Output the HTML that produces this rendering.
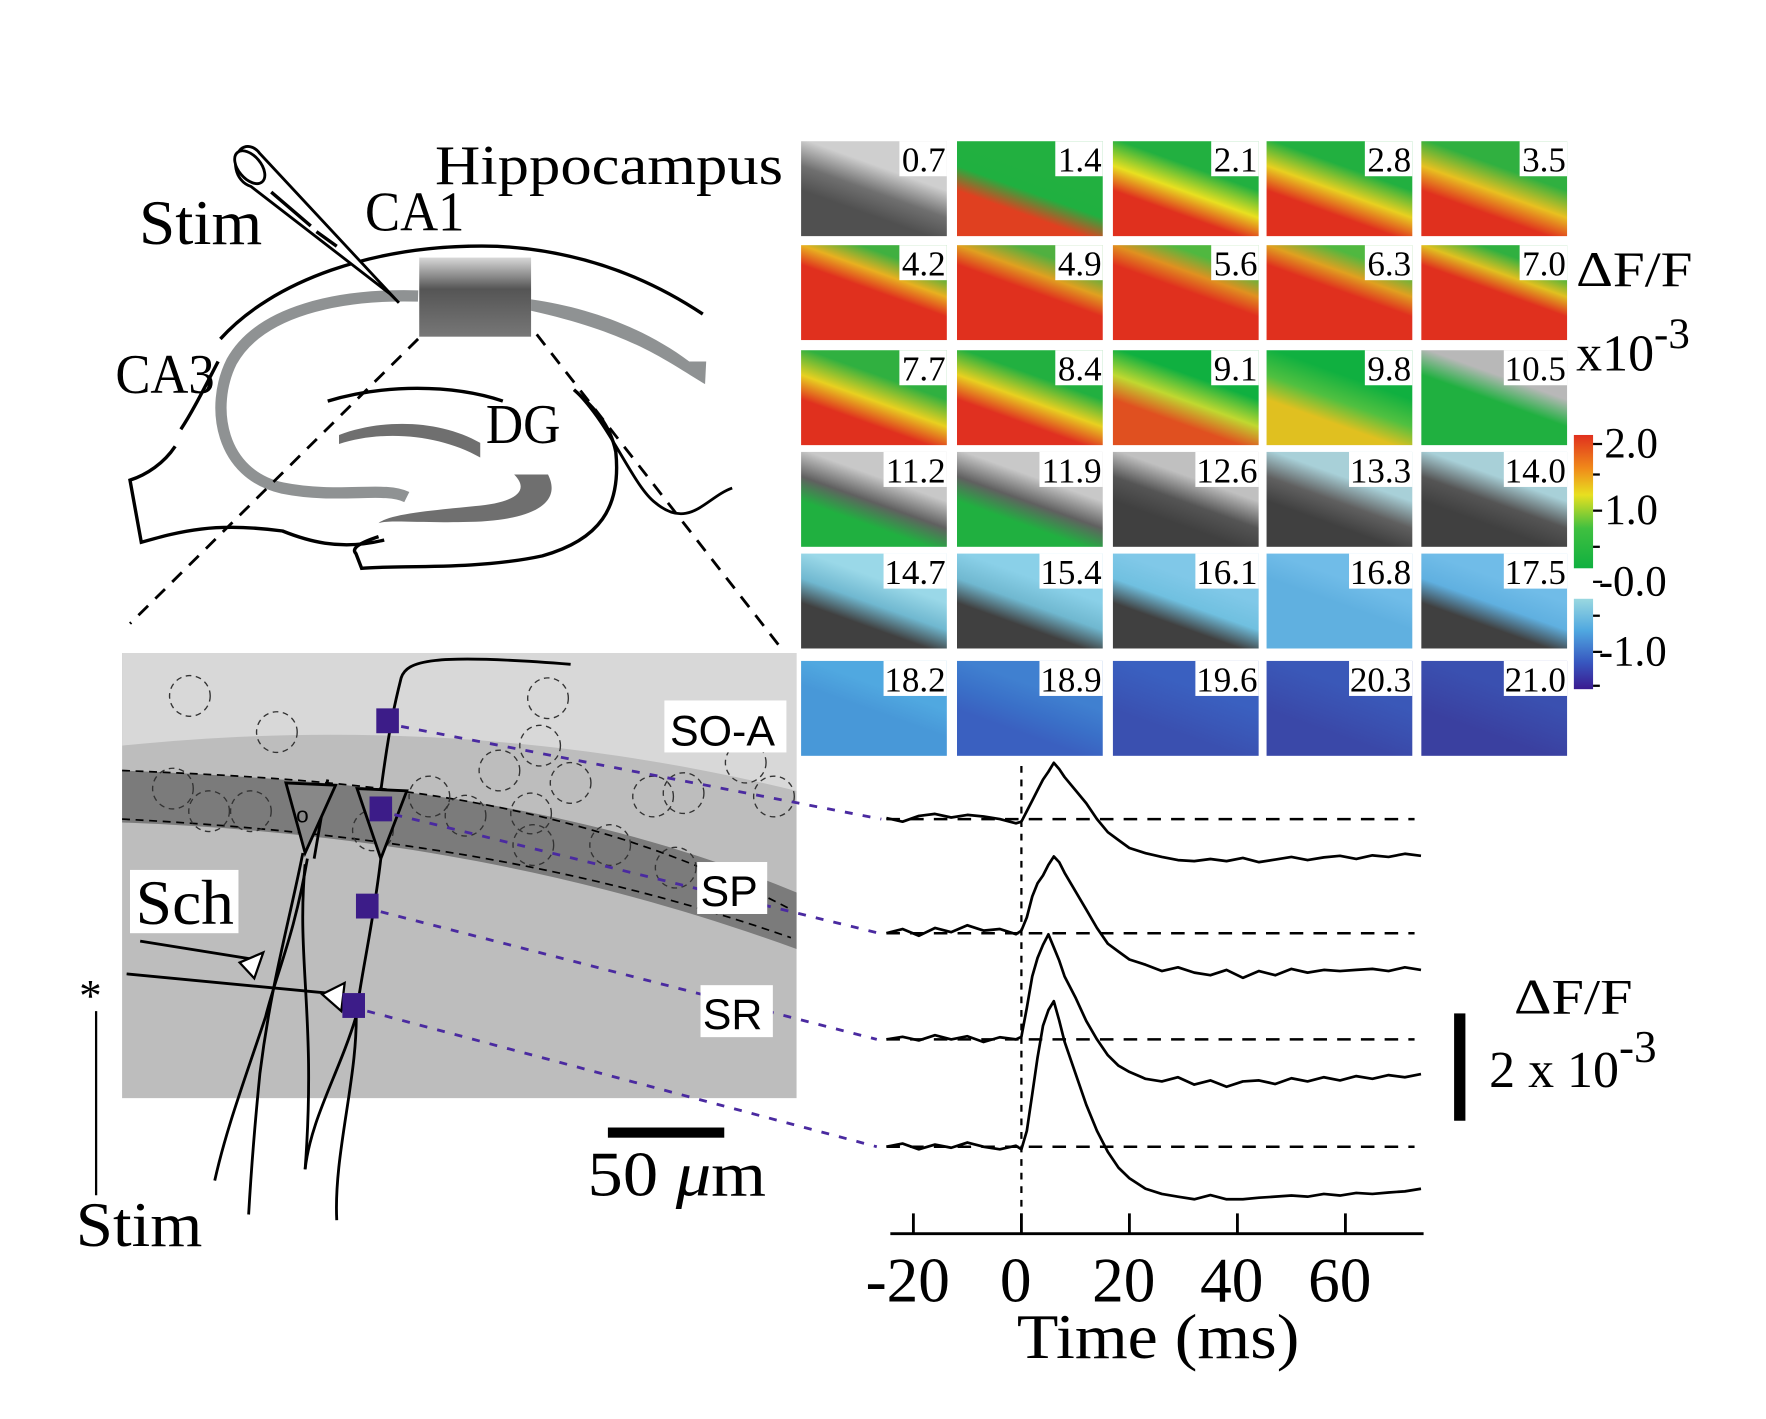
<!DOCTYPE html>
<html><head><meta charset="utf-8"><style>
html,body{margin:0;padding:0;background:#fff;}
svg{display:block;}
text{font-family:"Liberation Serif",serif;}
.sans{font-family:"Liberation Sans",sans-serif;}
</style></head><body>
<svg id="fig" width="1766" height="1419" viewBox="0 0 1563 1256" xmlns="http://www.w3.org/2000/svg">
<defs>
  <linearGradient id="cbarPos" x1="0" y1="0" x2="0" y2="1">
    <stop offset="0" stop-color="#e0301e"/><stop offset="0.25" stop-color="#f08a1a"/><stop offset="0.45" stop-color="#e8e020"/><stop offset="0.7" stop-color="#40c040"/><stop offset="1" stop-color="#10b040"/>
  </linearGradient>
  <linearGradient id="cbarNeg" x1="0" y1="0" x2="0" y2="1">
    <stop offset="0" stop-color="#9ad8e0"/><stop offset="0.35" stop-color="#50a8e0"/><stop offset="0.7" stop-color="#3858c0"/><stop offset="1" stop-color="#3a1a90"/>
  </linearGradient>
  <linearGradient id="thumbG" x1="0" y1="0" x2="0" y2="1">
    <stop offset="0" stop-color="#d8d8d8"/><stop offset="0.4" stop-color="#555"/><stop offset="1" stop-color="#777"/>
  </linearGradient>
</defs>

<g fill="none">
  <path d="M195,300 C240,250 330,215 440,218 C520,222 580,250 622,278" stroke="#000" stroke-width="3"/>
  <path d="M193,320 C180,345 170,365 160,380" stroke="#000" stroke-width="3"/>
  <path d="M155,395 C145,410 130,420 115,425 L125,480 C160,470 190,462 250,470 C270,478 300,488 340,478" stroke="#000" stroke-width="3"/>
  <path d="M335,475 C320,480 310,485 315,490 L320,503 C350,500 420,505 480,492 C530,478 550,450 545,400 C540,375 525,360 508,345" stroke="#000" stroke-width="3"/>
  <path d="M508,345 C540,375 560,430 580,445 C610,470 625,440 648,432" stroke="#000" stroke-width="2.5"/>
  <path d="M290,355 C340,340 400,340 445,355" stroke="#000" stroke-width="3"/>
  <path d="M370,262 C300,260 230,275 205,320 C185,360 195,420 250,432 C300,442 340,430 360,440" stroke="#8f9293" stroke-width="10"/>
  <path d="M470,265 C520,272 570,290 610,320 L625,320 L624,340 C590,320 560,295 470,275 Z" fill="#8f9293"/>
  <path d="M300,385 C340,370 390,372 425,392 L425,405 C390,385 340,380 300,393 Z" fill="#6f6f6f"/>
  <path d="M455,420 L485,420 C500,450 460,462 410,462 C370,463 345,460 335,463 C345,455 380,452 420,448 C455,445 470,435 455,420 Z" fill="#6f6f6f"/>
  <path d="M213,132 C205,140 207,160 222,165 L345,260 L353,268 L230,136 C225,129 218,128 213,132 Z" stroke="#000" stroke-width="2.5" fill="#fff"/>
  <ellipse cx="221" cy="148" rx="10" ry="17" transform="rotate(-40 221 148)" stroke="#000" stroke-width="2.5" fill="#fff"/>
  <path d="M240,170 L275,200 M280,205 L298,218" stroke="#000" stroke-width="3"/>
  <rect x="371" y="228" width="99" height="70" fill="url(#thumbG)"/>
  <line x1="370" y1="300" x2="115" y2="552" stroke="#000" stroke-width="2.5" stroke-dasharray="12,9"/>
  <line x1="475" y1="296" x2="690" y2="572" stroke="#000" stroke-width="2.5" stroke-dasharray="12,9"/>
</g>
<text x="385" y="163" font-size="50" textLength="308" lengthAdjust="spacingAndGlyphs">Hippocampus</text>
<text x="123" y="216" font-size="56" textLength="109" lengthAdjust="spacingAndGlyphs">Stim</text>
<text x="323" y="204" font-size="50" textLength="88" lengthAdjust="spacingAndGlyphs">CA1</text>
<text x="102" y="348" font-size="50" textLength="88" lengthAdjust="spacingAndGlyphs">CA3</text>
<text x="430" y="392" font-size="50" textLength="66" lengthAdjust="spacingAndGlyphs">DG</text>

<g>
  <rect x="108" y="578" width="597" height="394" fill="#bdbdbd"/>
  <path d="M108,578 L705,578 L705,700 C500,650 300,640 108,660 Z" fill="#d8d8d8"/>
  <path d="M108,682 C300,690 500,705 705,790 L705,840 C500,765 300,735 108,728 Z" fill="#6a6a6a" opacity="0.8"/>
  <path d="M108,682 C300,690 500,700 700,805" stroke="#000" stroke-width="1.5" stroke-dasharray="7,5" fill="none"/>
  <path d="M108,725 C300,735 500,760 700,830" stroke="#000" stroke-width="1.5" stroke-dasharray="7,5" fill="none"/>
  <g fill="none" stroke="#333" stroke-width="1.2" stroke-dasharray="5,4">
    <circle cx="168" cy="616" r="18"/><circle cx="245" cy="648" r="18"/><circle cx="485" cy="618" r="18"/><circle cx="478" cy="660" r="18"/>
    <circle cx="442" cy="682" r="18"/><circle cx="153" cy="698" r="18"/><circle cx="185" cy="718" r="18"/><circle cx="222" cy="718" r="18"/>
    <circle cx="380" cy="705" r="18"/><circle cx="412" cy="722" r="18"/><circle cx="470" cy="720" r="18"/><circle cx="505" cy="693" r="18"/>
    <circle cx="578" cy="705" r="18"/><circle cx="605" cy="702" r="18"/><circle cx="660" cy="675" r="18"/><circle cx="685" cy="705" r="18"/>
    <circle cx="540" cy="748" r="18"/><circle cx="598" cy="768" r="18"/><circle cx="330" cy="735" r="18"/><circle cx="472" cy="748" r="18"/>
  </g>
  <g fill="none" stroke="#000" stroke-width="2.5">
    <path d="M290,690 L278,760"/>
    <path d="M253,693 L297,695 L270,755 Z" fill="#888"/>
    <path d="M268,755 C255,820 240,870 230,950 C225,1000 222,1040 220,1075"/>
    <path d="M272,760 C260,830 245,860 235,900 C215,960 200,1000 190,1045"/>
    <path d="M270,765 C262,850 280,900 270,1035"/>
    <path d="M316,698 L360,700 L337,760 Z" fill="#888"/>
    <path d="M337,760 C330,820 320,860 315,900 C300,950 275,990 270,1035"/>
    <path d="M315,890 C318,950 295,1020 298,1080"/>
    <path d="M337,700 C345,640 350,620 355,600 C360,585 380,578 505,588"/>
    <path d="M124,833 L230,850"/>
    <path d="M112,862 L300,880"/>
  </g>
  <path d="M212,852 L233,843 L225,866 Z" fill="#fff" stroke="#000" stroke-width="2"/>
  <path d="M285,880 L305,870 L302,895 Z" fill="#fff" stroke="#000" stroke-width="2"/>
  <text x="262" y="728" font-size="20" class="sans">o</text>
</g>
<rect x="333" y="627" width="20" height="22" fill="#3c1c88"/>
<rect x="327" y="705" width="20" height="22" fill="#3c1c88"/>
<rect x="315" y="791" width="20" height="22" fill="#3c1c88"/>
<rect x="303" y="879" width="20" height="22" fill="#3c1c88"/>
<g stroke="#4a2aa0" stroke-width="2.5" stroke-dasharray="7,9" fill="none">
  <line x1="355" y1="643" x2="780" y2="725"/>
  <line x1="349" y1="721" x2="778" y2="826"/>
  <line x1="337" y1="807" x2="776" y2="920"/>
  <line x1="325" y1="895" x2="776" y2="1015"/>
</g>
<rect x="588" y="620" width="108" height="46" fill="#fff"/>
<text x="593" y="660" font-size="38" class="sans">SO-A</text>
<rect x="617" y="763" width="62" height="46" fill="#fff"/>
<text x="620" y="802" font-size="38" class="sans">SP</text>
<rect x="620" y="872" width="64" height="46" fill="#fff"/>
<text x="622" y="911" font-size="38" class="sans">SR</text>
<rect x="115" y="770" width="96" height="56" fill="#fff"/>
<text x="120" y="818" font-size="56" textLength="87" lengthAdjust="spacingAndGlyphs">Sch</text>
<text x="70" y="895" font-size="40">*</text>
<line x1="85" y1="895" x2="85" y2="1058" stroke="#000" stroke-width="2"/>
<text x="67" y="1103" font-size="56" textLength="112" lengthAdjust="spacingAndGlyphs">Stim</text>
<rect x="538" y="998" width="103" height="9" fill="#000"/>
<text x="520" y="1058" font-size="56" textLength="158" lengthAdjust="spacingAndGlyphs">50 <tspan font-style="italic">μ</tspan>m</text>

<g id="tiles"></g>

<rect x="1393" y="385" width="17" height="118" fill="url(#cbarPos)"/>
<rect x="1393" y="530" width="17" height="80" fill="url(#cbarNeg)"/>
<g stroke="#000" stroke-width="2">
  <line x1="1410" y1="393" x2="1418" y2="393"/><line x1="1410" y1="420" x2="1416" y2="420"/><line x1="1410" y1="452" x2="1418" y2="452"/><line x1="1410" y1="484" x2="1416" y2="484"/><line x1="1410" y1="515" x2="1418" y2="515"/><line x1="1410" y1="545" x2="1416" y2="545"/><line x1="1410" y1="577" x2="1418" y2="577"/><line x1="1410" y1="607" x2="1416" y2="607"/>
</g>
<text x="1420" y="405" font-size="38">2.0</text>
<text x="1420" y="464" font-size="38">1.0</text>
<text x="1415" y="527" font-size="38">-0.0</text>
<text x="1415" y="589" font-size="38">-1.0</text>
<text x="1395" y="253" font-size="44" textLength="103" lengthAdjust="spacingAndGlyphs">ΔF/F</text>
<text x="1395" y="328" font-size="46">x10<tspan dy="-20" font-size="38">-3</tspan></text>

<g id="chart"></g>
<rect x="1287" y="897" width="10" height="95" fill="#000"/>
<text x="1340" y="897" font-size="44" textLength="105" lengthAdjust="spacingAndGlyphs">ΔF/F</text>
<text x="1318" y="962" font-size="46">2 x 10<tspan dy="-22" font-size="40">-3</tspan></text>
<text x="900" y="1202" font-size="56" textLength="250" lengthAdjust="spacingAndGlyphs">Time (ms)</text>

<script>
const tileLabels = ["0.7","1.4","2.1","2.8","3.5","4.2","4.9","5.6","6.3","7.0","7.7","8.4","9.1","9.8","10.5","11.2","11.9","12.6","13.3","14.0","14.7","15.4","16.1","16.8","17.5","18.2","18.9","19.6","20.3","21.0"];
const tileTop = ["#cfcfcf","#22b040","#22b040","#22b040","#30b040","#40b040","#50b040","#50b840","#50b840","#30b040","#30b040","#22b040","#10b040","#10b040","#b8b8b8","#c8c8c8","#c8c8c8","#c0c0c0","#a8d0d8","#a8d0d8","#9ad8e8","#8ad0e8","#80c8e8","#70bce8","#70bce8","#50a8e0","#4080d0","#3a60c0","#3a58b8","#3a50b0"];
const tileMid = ["#707070","#20b040","#e8e020","#e8d020","#e8c020","#e8b020","#e0a020","#e09020","#e0a020","#e0c020","#e8d020","#e8d020","#c0d830","#50c040","#20b040","#606060","#606060","#555555","#606060","#555555","#70b8d0","#70b8d0","#70c0e0","#60b0e0","#60b0e0","#4898d8","#3a70c8","#3a58b8","#3a50b0","#3a48a8"];
const tileBot = ["#505050","#e04020","#e0301e","#e0301e","#e0301e","#e0301e","#e0301e","#e0301e","#e0301e","#e0301e","#e0301e","#e03020","#e05020","#e0c020","#20b040","#20b040","#20b040","#404040","#404040","#404040","#404040","#404040","#404040","#60b0e0","#404040","#4898d8","#3a60c0","#3a50b0","#3a48a8","#3a40a0"];

const svgNS = "http://www.w3.org/2000/svg";
const tilesG = document.getElementById('tiles');
const defs = document.querySelector('defs');
const colX = [709, 847, 985, 1121, 1258];
const rowY = [125, 217, 310, 400, 490, 585];
tileLabels.forEach((lab, i) => {
  const c = i % 5, r = Math.floor(i / 5);
  const x = colX[c], y = rowY[r], w = 129, h = 84;
  const g = document.createElementNS(svgNS, 'linearGradient');
  g.setAttribute('id', 'tg' + i);
  g.setAttribute('x1', '1'); g.setAttribute('y1', '0'); g.setAttribute('x2', '0.45'); g.setAttribute('y2', '1');
  const redRow = (r === 1);
  const stops = redRow ? [[0, tileTop[i]], [0.25, tileTop[i]], [0.42, tileMid[i]], [0.58, tileBot[i]], [1, tileBot[i]]]
                       : [[0, tileTop[i]], [0.4, tileTop[i]], [0.62, tileMid[i]], [0.82, tileBot[i]], [1, tileBot[i]]];
  stops.forEach(s => {
    const st = document.createElementNS(svgNS, 'stop');
    st.setAttribute('offset', s[0]); st.setAttribute('stop-color', s[1]);
    g.appendChild(st);
  });
  defs.appendChild(g);
  const rect = document.createElementNS(svgNS, 'rect');
  rect.setAttribute('x', x); rect.setAttribute('y', y); rect.setAttribute('width', w); rect.setAttribute('height', h);
  rect.setAttribute('fill', 'url(#tg' + i + ')');
  
  
  tilesG.appendChild(rect);
  const bw = lab.length > 3 ? 56 : 42;
  const box = document.createElementNS(svgNS, 'rect');
  box.setAttribute('x', x + w - bw); box.setAttribute('y', y); box.setAttribute('width', bw); box.setAttribute('height', 31);
  box.setAttribute('fill', '#fff');
  
  
  tilesG.appendChild(box);
  const t = document.createElementNS(svgNS, 'text');
  t.setAttribute('x', x + w - 1); t.setAttribute('y', y + 27);
  t.setAttribute('text-anchor', 'end'); t.setAttribute('font-size', '31');
  t.textContent = lab;
  
  
  tilesG.appendChild(t);
});

const times = [-25,-22,-19,-16,-13,-10,-7,-4,-1,0,1,2,3,4,5,6,7,8,10,12,14,16,18,20,23,26,29,32,35,38,41,44,47,50,53,56,59,62,65,68,71,74];
const traceSO = [0.02,-0.05,0.06,0.1,0.03,0.08,0.05,0.0,-0.08,-0.05,0.15,0.35,0.55,0.75,0.9,1.07,0.95,0.8,0.55,0.3,0.0,-0.25,-0.4,-0.55,-0.65,-0.72,-0.78,-0.8,-0.76,-0.8,-0.74,-0.82,-0.77,-0.72,-0.78,-0.73,-0.7,-0.76,-0.69,-0.72,-0.66,-0.7];
const traceSP = [0.0,0.08,-0.05,0.1,0.02,0.15,0.05,0.08,-0.02,0.05,0.3,0.7,0.95,1.1,1.3,1.46,1.35,1.15,0.8,0.45,0.1,-0.2,-0.35,-0.5,-0.6,-0.72,-0.65,-0.75,-0.8,-0.7,-0.85,-0.72,-0.8,-0.68,-0.75,-0.7,-0.72,-0.7,-0.68,-0.72,-0.65,-0.7];
const traceSR1 = [0.0,0.05,-0.02,0.08,0.0,0.06,-0.05,0.04,0.0,0.05,0.6,1.2,1.55,1.8,2.0,1.75,1.5,1.2,0.8,0.35,0.0,-0.3,-0.5,-0.62,-0.75,-0.8,-0.72,-0.86,-0.78,-0.9,-0.8,-0.78,-0.85,-0.74,-0.8,-0.72,-0.78,-0.7,-0.75,-0.68,-0.72,-0.66];
const traceSR2 = [0.0,0.06,-0.05,0.04,-0.02,0.08,0.0,-0.05,0.02,-0.05,0.3,1.0,1.7,2.3,2.6,2.77,2.4,2.0,1.4,0.8,0.3,-0.1,-0.4,-0.6,-0.8,-0.9,-0.95,-1.0,-0.92,-1.0,-1.0,-0.97,-0.95,-0.93,-0.95,-0.9,-0.93,-0.88,-0.9,-0.87,-0.85,-0.8];
const traceBaselines = [725, 826, 920, 1015];
const xTicks = [-20, 0, 20, 40, 60];
const xTickLabels = ["-20", "0", "20", "40", "60"];

const xPx = t => 904 + t * 4.78;
const yPx = (v, base) => base - v * 46.5;

const chart = document.getElementById('chart');
function mk(tag, attrs) {
  const e = document.createElementNS(svgNS, tag);
  for (const k in attrs) e.setAttribute(k, attrs[k]);
  chart.appendChild(e);
  return e;
}
const z = mk('line', {x1: xPx(0), y1: 678, x2: xPx(0), y2: 1090, stroke: '#000', 'stroke-width': 2, 'stroke-dasharray': '6,6'});


const traces = [traceSO, traceSP, traceSR1, traceSR2];
const traceNames = ['trace-so-a', 'trace-sp', 'trace-sr-upper', 'trace-sr-lower'];
traces.forEach((vals, k) => {
  const base = traceBaselines[k];
  const bl = mk('line', {x1: xPx(-25), y1: base, x2: 1252, y2: base, stroke: '#000', 'stroke-width': 2.2, 'stroke-dasharray': '12,9'});
  
  
  const d = vals.map((v, i) => (i ? 'L' : 'M') + xPx(times[i]).toFixed(1) + ',' + yPx(v, base).toFixed(1)).join(' ');
  const p = mk('path', {d: d, fill: 'none', stroke: '#000', 'stroke-width': 2.4, 'stroke-linejoin': 'round'});
  
  
});
const ax = mk('line', {x1: 788, y1: 1092, x2: 1260, y2: 1092, stroke: '#000', 'stroke-width': 2.5});


xTicks.forEach((t, i) => {
  const tk = mk('line', {x1: xPx(t), y1: 1074, x2: xPx(t), y2: 1092, stroke: '#000', 'stroke-width': 2.5});
  
  
  const tl = mk('text', {x: xPx(t) - 5, y: 1152, 'font-size': 56, 'text-anchor': 'middle'});
  tl.textContent = xTickLabels[i];
  
  
});
</script>
</svg>
</body></html>
